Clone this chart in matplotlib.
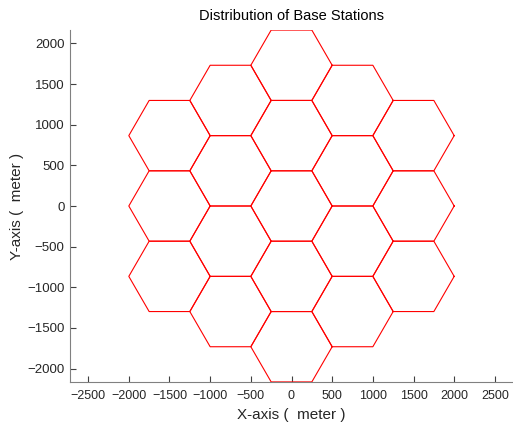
import numpy as np
import matplotlib
matplotlib.use("Agg")
import matplotlib.pyplot as plt

# cell radius (meter) and base station centres
R = 500
cx = [0, 0, 750, 750, 0, -750, -750,
      0, 750, 1500, 1500, 1500, 750, 0, -750, -1500, -1500, -1500, -750]
cy = [0, 866, 433, -433, -866, -433, 433,
      1732, 1299, 866, 0, -866, -1299, -1732, -1299, -866, 0, 866, 1299]
xticks = [-2500, -2000, -1500, -1000, -500, 0, 500, 1000, 1500, 2000, 2500]
yticks = [-2000, -1500, -1000, -500, 0, 500, 1000, 1500, 2000]

plt.rcParams['font.family'] = ['Liberation Sans', 'DejaVu Sans']
fig = plt.figure(figsize=(5.13, 4.28), dpi=100)
ax = fig.add_axes([70 / 513, 1 - 382 / 428, 443 / 513, 352 / 428])

ang = np.linspace(0, 2 * np.pi, 7)
for x0, y0 in zip(cx, cy):
    ax.plot(x0 + R * np.cos(ang), y0 + R * np.sin(ang), color='#ff0000', lw=0.8)

ax.set_xlim(-2723, 2723)
ax.set_ylim(-2166, 2166)
ax.set_xticks(xticks)
ax.set_yticks(yticks)
for s in ['top', 'right']:
    ax.spines[s].set_visible(False)
for s in ['left', 'bottom']:
    ax.spines[s].set_color('#808080')
    ax.spines[s].set_linewidth(0.8)
ax.tick_params(direction='in', length=4, width=0.8, color='#404040',
               labelsize=9.5, labelcolor='#262626')
ax.tick_params(axis='x', pad=6, labelsize=9)
ax.tick_params(axis='y', pad=4)
ax.set_title('Distribution of Base Stations', fontsize=10.5, color='black', pad=7)
ax.set_xlabel('X-axis (  meter )', fontsize=11, color='#262626', labelpad=4)
ax.set_ylabel('Y-axis (  meter )', fontsize=11, color='#262626', labelpad=2)

fig.savefig('out.png', dpi=100)
